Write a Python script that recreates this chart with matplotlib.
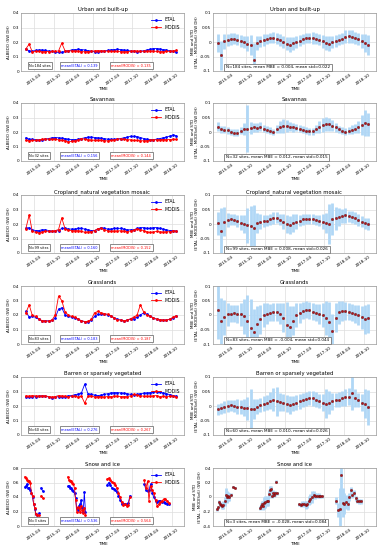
import matplotlib
matplotlib.use("Agg")
import matplotlib.pyplot as plt
import matplotlib.dates as mdates
from matplotlib.ticker import FuncFormatter
import numpy as np
import pandas as pd

# monthly mid-points, Jan 2015 .. Nov 2018
months = pd.date_range("2015-01-01", periods=47, freq="MS") + pd.Timedelta(days=14)

titles = ["Urban and built-up", "Savannas", "Cropland_natural vegetation mosaic",
          "Grasslands", "Barren or sparsely vegetated", "Snow and ice"]
n_sites = [184, 32, 99, 83, 60, 3]
mean_etal = [0.139, 0.156, 0.160, 0.183, 0.276, 0.536]
mean_modis = [0.135, 0.144, 0.152, 0.187, 0.267, 0.564]
mean_mbe = [0.004, 0.012, 0.008, -0.004, 0.010, -0.028]
mean_std = [0.022, 0.015, 0.026, 0.044, 0.026, 0.084]

urban_etal = [0.150, 0.140, 0.135, 0.142, 0.145, 0.145, 0.142, 0.138, 0.135, 0.130, 0.128, 0.130,
              0.135, 0.140, 0.145, 0.148, 0.150, 0.148, 0.145, 0.140, 0.136, 0.133, 0.132, 0.135,
              0.138, 0.142, 0.146, 0.148, 0.150, 0.148, 0.145, 0.142, 0.138, 0.135, 0.132, 0.136,
              0.140, 0.145, 0.150, 0.155, 0.155, 0.152, 0.148, 0.145, 0.140, 0.135, 0.133]
urban_modis = [0.153, 0.185, 0.133, 0.136, 0.135, 0.133, 0.134, 0.134, 0.135, 0.136, 0.138, 0.192,
               0.139, 0.138, 0.139, 0.138, 0.137, 0.133, 0.133, 0.134, 0.136, 0.139, 0.141, 0.139,
               0.138, 0.137, 0.136, 0.135, 0.136, 0.134, 0.133, 0.134, 0.136, 0.139, 0.138, 0.136,
               0.136, 0.137, 0.138, 0.137, 0.135, 0.134, 0.134, 0.135, 0.136, 0.138, 0.143]
urban_mbe = [-0.003, -0.045, 0.002, 0.006, 0.010, 0.012, 0.008, 0.004, 0.000, -0.006, -0.010, -0.062,
             -0.004, 0.002, 0.006, 0.010, 0.013, 0.015, 0.012, 0.006, 0.000, -0.006, -0.009, -0.004,
             0.000, 0.005, 0.010, 0.013, 0.014, 0.014, 0.012, 0.008, 0.002, -0.004, -0.006, 0.000,
             0.004, 0.008, 0.012, 0.018, 0.020, 0.018, 0.014, 0.010, 0.004, -0.003, -0.010]
urban_std = [0.030, 0.050, 0.025, 0.020, 0.020, 0.020, 0.020, 0.020, 0.022, 0.025, 0.035, 0.060,
             0.025, 0.020, 0.020, 0.018, 0.018, 0.020, 0.020, 0.020, 0.020, 0.022, 0.025, 0.022,
             0.020, 0.018, 0.018, 0.018, 0.018, 0.020, 0.020, 0.020, 0.022, 0.025, 0.025, 0.022,
             0.020, 0.020, 0.020, 0.022, 0.022, 0.022, 0.022, 0.022, 0.025, 0.030, 0.035]

sav_etal = [0.160, 0.150, 0.150, 0.148, 0.145, 0.148, 0.150, 0.155, 0.160, 0.162, 0.160, 0.158,
            0.155, 0.150, 0.148, 0.148, 0.150, 0.155, 0.160, 0.165, 0.165, 0.162, 0.160, 0.158,
            0.155, 0.150, 0.150, 0.150, 0.152, 0.155, 0.160, 0.165, 0.170, 0.170, 0.168, 0.162,
            0.155, 0.150, 0.148, 0.148, 0.150, 0.155, 0.160, 0.165, 0.172, 0.180, 0.175]
sav_modis = [0.142, 0.140, 0.142, 0.142, 0.145, 0.150, 0.152, 0.150, 0.150, 0.150, 0.146, 0.142,
             0.140, 0.132, 0.136, 0.140, 0.146, 0.155, 0.150, 0.147, 0.145, 0.142, 0.142, 0.142,
             0.141, 0.138, 0.142, 0.146, 0.150, 0.152, 0.150, 0.147, 0.146, 0.142, 0.142, 0.140,
             0.139, 0.140, 0.144, 0.147, 0.146, 0.147, 0.148, 0.147, 0.148, 0.150, 0.149]
sav_mbe = [0.018, 0.010, 0.008, 0.006, 0.000, -0.002, -0.002, 0.005, 0.010, 0.012, 0.014, 0.016,
           0.015, 0.018, 0.012, 0.008, 0.004, 0.000, 0.010, 0.018, 0.020, 0.020, 0.018, 0.016,
           0.014, 0.012, 0.008, 0.004, 0.002, 0.003, 0.010, 0.018, 0.024, 0.028, 0.026, 0.022,
           0.016, 0.010, 0.004, 0.001, 0.004, 0.008, 0.012, 0.018, 0.024, 0.030, 0.026]
sav_std = [0.015, 0.012, 0.012, 0.012, 0.012, 0.012, 0.012, 0.012, 0.020, 0.080, 0.020, 0.015,
           0.015, 0.015, 0.012, 0.012, 0.012, 0.012, 0.015, 0.020, 0.025, 0.020, 0.015, 0.015,
           0.012, 0.012, 0.012, 0.012, 0.012, 0.012, 0.015, 0.020, 0.025, 0.025, 0.022, 0.020,
           0.015, 0.012, 0.012, 0.012, 0.012, 0.015, 0.015, 0.020, 0.035, 0.045, 0.040]

crop_etal = [0.170, 0.175, 0.160, 0.155, 0.155, 0.160, 0.160, 0.155, 0.150, 0.150, 0.155, 0.170,
             0.170, 0.165, 0.165, 0.165, 0.170, 0.170, 0.165, 0.160, 0.155, 0.155, 0.165, 0.175,
             0.170, 0.165, 0.165, 0.170, 0.170, 0.170, 0.165, 0.160, 0.160, 0.160, 0.170, 0.175,
             0.175, 0.170, 0.170, 0.175, 0.175, 0.170, 0.165, 0.160, 0.155, 0.155, 0.150]
crop_modis = [0.168, 0.262, 0.152, 0.142, 0.140, 0.145, 0.150, 0.150, 0.150, 0.154, 0.162, 0.242,
              0.166, 0.157, 0.155, 0.153, 0.154, 0.150, 0.143, 0.145, 0.147, 0.155, 0.168, 0.170,
              0.162, 0.153, 0.149, 0.152, 0.152, 0.153, 0.151, 0.148, 0.152, 0.156, 0.168, 0.160,
              0.155, 0.146, 0.142, 0.145, 0.149, 0.146, 0.145, 0.146, 0.147, 0.153, 0.150]
crop_mbe = [0.002, -0.025, 0.008, 0.014, 0.016, 0.015, 0.010, 0.005, 0.000, -0.004, -0.008, -0.015,
            0.004, 0.008, 0.010, 0.012, 0.016, 0.020, 0.022, 0.015, 0.008, 0.000, -0.004, 0.004,
            0.008, 0.012, 0.016, 0.018, 0.018, 0.017, 0.014, 0.012, 0.008, 0.004, 0.000, 0.016,
            0.020, 0.024, 0.028, 0.030, 0.026, 0.024, 0.020, 0.014, 0.008, 0.002, 0.000]
crop_std = [0.040, 0.080, 0.050, 0.025, 0.020, 0.020, 0.020, 0.025, 0.030, 0.060, 0.070, 0.080,
            0.035, 0.025, 0.020, 0.020, 0.020, 0.020, 0.020, 0.020, 0.025, 0.030, 0.030, 0.030,
            0.025, 0.020, 0.020, 0.018, 0.018, 0.018, 0.018, 0.020, 0.025, 0.035, 0.070, 0.055,
            0.040, 0.030, 0.025, 0.025, 0.020, 0.020, 0.020, 0.020, 0.020, 0.020, 0.020]

grass_etal = [0.225, 0.185, 0.190, 0.185, 0.170, 0.160, 0.160, 0.160, 0.165, 0.180, 0.240, 0.250,
              0.200, 0.190, 0.185, 0.180, 0.170, 0.160, 0.155, 0.155, 0.165, 0.190, 0.205, 0.205,
              0.205, 0.200, 0.195, 0.180, 0.170, 0.165, 0.160, 0.165, 0.170, 0.175, 0.185, 0.200,
              0.215, 0.205, 0.195, 0.180, 0.170, 0.165, 0.165, 0.165, 0.170, 0.180, 0.190]
grass_modis = [0.215, 0.270, 0.200, 0.190, 0.175, 0.160, 0.158, 0.158, 0.165, 0.200, 0.330, 0.300,
               0.220, 0.200, 0.190, 0.185, 0.172, 0.160, 0.155, 0.156, 0.170, 0.215, 0.225, 0.215,
               0.210, 0.205, 0.195, 0.180, 0.168, 0.165, 0.160, 0.165, 0.175, 0.185, 0.200, 0.270,
               0.220, 0.200, 0.190, 0.180, 0.172, 0.168, 0.165, 0.165, 0.172, 0.185, 0.195]
grass_mbe = [0.018, -0.020, -0.008, 0.002, 0.005, 0.006, 0.004, 0.002, -0.005, -0.020, -0.045, -0.060,
             -0.030, -0.015, 0.000, 0.005, 0.008, 0.010, 0.010, 0.005, -0.010, -0.035, -0.040, -0.020,
             0.000, 0.008, 0.015, 0.018, 0.016, 0.012, 0.008, 0.004, 0.000, -0.010, -0.025, -0.055,
             -0.010, 0.010, 0.015, 0.014, 0.012, 0.008, 0.004, 0.000, -0.008, -0.015, -0.012]
grass_std = [0.100, 0.080, 0.060, 0.040, 0.030, 0.030, 0.030, 0.040, 0.060, 0.090, 0.100, 0.080,
             0.060, 0.050, 0.040, 0.035, 0.030, 0.030, 0.030, 0.035, 0.050, 0.080, 0.070, 0.050,
             0.040, 0.035, 0.030, 0.030, 0.030, 0.030, 0.030, 0.035, 0.040, 0.060, 0.070, 0.060,
             0.050, 0.040, 0.035, 0.030, 0.030, 0.030, 0.030, 0.035, 0.040, 0.050, 0.050]

barren_etal = [0.265, 0.260, 0.262, 0.265, 0.268, 0.270, 0.268, 0.262, 0.258, 0.260, 0.265, 0.262,
               0.265, 0.270, 0.272, 0.278, 0.282, 0.290, 0.350, 0.285, 0.280, 0.275, 0.272, 0.275,
               0.280, 0.285, 0.290, 0.292, 0.292, 0.290, 0.288, 0.285, 0.280, 0.278, 0.280, 0.285,
               0.288, 0.290, 0.292, 0.295, 0.298, 0.295, 0.290, 0.285, 0.278, 0.272, 0.268]
barren_modis = [0.270, 0.268, 0.272, 0.270, 0.268, 0.270, 0.270, 0.265, 0.262, 0.265, 0.272, 0.270,
                0.268, 0.265, 0.268, 0.268, 0.262, 0.268, 0.220, 0.268, 0.270, 0.262, 0.265, 0.265,
                0.262, 0.265, 0.265, 0.268, 0.268, 0.265, 0.265, 0.265, 0.270, 0.280, 0.275, 0.270,
                0.268, 0.268, 0.268, 0.270, 0.272, 0.265, 0.268, 0.265, 0.268, 0.268, 0.265]
barren_mbe = [-0.012, -0.008, -0.004, 0.000, 0.002, 0.000, -0.002, -0.004, -0.006, -0.008, -0.012, -0.010,
              -0.002, 0.004, 0.008, 0.012, 0.018, 0.022, 0.016, 0.014, 0.012, 0.008, 0.004, 0.008,
              0.012, 0.016, 0.020, 0.024, 0.028, 0.026, 0.022, 0.018, 0.012, 0.008, 0.012, 0.016,
              0.020, 0.022, 0.026, 0.030, 0.032, 0.046, 0.028, 0.020, 0.012, 0.008, -0.004]
barren_std = [0.020, 0.020, 0.020, 0.020, 0.020, 0.020, 0.025, 0.025, 0.030, 0.040, 0.070, 0.035,
              0.025, 0.025, 0.025, 0.025, 0.030, 0.040, 0.050, 0.030, 0.030, 0.030, 0.030, 0.025,
              0.025, 0.025, 0.025, 0.025, 0.025, 0.025, 0.025, 0.025, 0.030, 0.050, 0.040, 0.030,
              0.025, 0.025, 0.025, 0.030, 0.030, 0.060, 0.030, 0.025, 0.030, 0.050, 0.060]

# snow: only a few seasons have data, nan rows break the lines
snow_dates = ["2015-01-05", "2015-01-15", "2015-01-25", "2015-02-05", "2015-02-15", "2015-02-25",
              "2015-03-08", "2015-03-18", "2015-03-28", "2015-04-08", "2015-04-18", "2015-04-28",
              "2015-05-08", "2015-05-16", "2015-05-26", "2015-06-06", "2015-06-20", "2015-09-01",
              "2016-02-10", "2016-02-20", "2016-03-01", "2016-03-12", "2016-03-22", "2016-04-02",
              "2016-04-12", "2016-04-22", "2016-05-02", "2016-05-12", "2016-05-22", "2016-06-02",
              "2016-06-12", "2016-06-22", "2016-07-02", "2016-07-12", "2016-07-22", "2016-10-01",
              "2017-02-10", "2017-02-25", "2017-03-10", "2017-03-25", "2017-04-10", "2017-04-25",
              "2017-05-10", "2017-05-25", "2017-06-10", "2017-06-25", "2017-07-10", "2017-07-25",
              "2017-08-10", "2017-08-25", "2017-09-10", "2017-11-01",
              "2018-01-20", "2018-02-05", "2018-02-20", "2018-03-05", "2018-03-20", "2018-04-05",
              "2018-04-20", "2018-05-05", "2018-05-20", "2018-06-05", "2018-06-20", "2018-07-05",
              "2018-07-20", "2018-08-05", "2018-08-20", "2018-09-05"]
nan = np.nan
snow_etal = [0.54, 0.55, 0.58, 0.52, 0.53, 0.50, 0.45, 0.40, 0.31, 0.24, 0.17, 0.15,
             nan, 0.18, nan, 0.53, 0.48, nan,
             0.55, 0.55, 0.53, 0.52, 0.50, 0.48, 0.45, 0.38, 0.25, 0.22, 0.28, 0.30,
             0.36, 0.25, 0.20, 0.47, 0.20, nan,
             0.57, 0.60, 0.56, 0.53, 0.51, 0.50, 0.47, 0.42, 0.36, 0.31, 0.30, 0.31,
             0.30, 0.32, 0.42, nan,
             0.58, 0.50, 0.48, 0.49, 0.58, 0.45, 0.40, 0.35, 0.33, 0.35, 0.34, 0.33,
             0.33, 0.32, 0.31, 0.30]
snow_modis = [0.68, 0.66, 0.64, 0.62, 0.62, 0.60, 0.46, 0.42, 0.31, 0.25, 0.16, 0.15,
              nan, 0.15, nan, 0.42, 0.38, nan,
              0.68, 0.63, 0.62, 0.62, 0.60, 0.58, 0.52, 0.36, 0.20, 0.26, 0.25, 0.19,
              0.28, 0.22, 0.18, 0.25, 0.15, nan,
              0.65, 0.66, 0.63, 0.61, 0.59, 0.57, 0.53, 0.46, 0.40, 0.33, 0.29, 0.30,
              0.28, 0.29, 0.40, nan,
              0.63, 0.52, 0.62, 0.35, 0.55, 0.50, 0.45, 0.36, 0.28, 0.30, 0.33, 0.35,
              0.37, 0.37, 0.35, 0.32]
snow_mbe = [-0.17, -0.14, -0.07, -0.10, -0.11, -0.12, -0.11, -0.06, 0.03, 0.00, 0.01, 0.00,
            nan, 0.03, nan, 0.14, 0.13, nan,
            -0.15, -0.12, -0.10, -0.12, -0.08, -0.07, -0.06, -0.06, 0.04, 0.10, 0.11, 0.02,
            0.05, 0.03, 0.05, 0.21, 0.05, nan,
            -0.10, -0.11, -0.09, -0.10, -0.11, -0.10, -0.05, -0.03, 0.00, 0.03, 0.01, 0.02,
            0.02, 0.01, 0.01, nan,
            -0.05, -0.18, -0.17, 0.31, -0.08, -0.09, -0.07, -0.10, 0.00, 0.09, 0.03, 0.05,
            -0.02, -0.05, -0.06, -0.06]
snow_std = [0.02, 0.02, 0.03, 0.03, 0.03, 0.04, 0.05, 0.06, 0.10, 0.08, 0.06, 0.05,
            nan, 0.02, nan, 0.01, 0.01, nan,
            0.03, 0.04, 0.05, 0.06, 0.08, 0.08, 0.07, 0.06, 0.06, 0.05, 0.04, 0.04,
            0.04, 0.03, 0.03, 0.02, 0.02, nan,
            0.02, 0.03, 0.03, 0.04, 0.05, 0.05, 0.06, 0.07, 0.08, 0.05, 0.04, 0.03,
            0.03, 0.02, 0.02, nan,
            0.05, 0.10, 0.30, 0.35, 0.20, 0.15, 0.10, 0.08, 0.06, 0.05, 0.04, 0.04,
            0.04, 0.03, 0.03, 0.03]

snow_x = pd.to_datetime(snow_dates)
panels = [
    (months, urban_etal, urban_modis, urban_mbe, urban_std),
    (months, sav_etal, sav_modis, sav_mbe, sav_std),
    (months, crop_etal, crop_modis, crop_mbe, crop_std),
    (months, grass_etal, grass_modis, grass_mbe, grass_std),
    (months, barren_etal, barren_modis, barren_mbe, barren_std),
    (snow_x, snow_etal, snow_modis, snow_mbe, snow_std),
]

W, H = 386, 550
fig = plt.figure(figsize=(3.86, 5.5), dpi=100)
row_tops = [13, 103, 195, 286, 377, 468]
ax_h = 58
fs = 3.0
xlim = (pd.Timestamp("2014-12-01"), pd.Timestamp("2019-01-25"))
gfmt = FuncFormatter(lambda v, p: "%g" % round(v, 3))


def style(ax, title):
    ax.set_title(title, fontsize=3.8, pad=1.2)
    ax.grid(True, color="#dddddd", lw=0.5)
    ax.set_axisbelow(True)
    for s in ax.spines.values():
        s.set_color("#999999")
        s.set_linewidth(0.5)
    ax.tick_params(length=0, labelsize=fs, pad=1.5)
    ax.xaxis.set_major_locator(mdates.MonthLocator(bymonth=[4, 10]))
    ax.xaxis.set_major_formatter(mdates.DateFormatter("%Y-%m"))
    for lab in ax.get_xticklabels():
        lab.set_rotation(35)
    ax.set_xlim(*xlim)
    ax.yaxis.set_major_formatter(gfmt)
    ax.set_xlabel("TIME", fontsize=fs, labelpad=0.5)


box = dict(boxstyle="square,pad=0.4", fc="white", ec="#777777", lw=0.6)

for i, (x, etal, modis, mbe, std) in enumerate(panels):
    bottom = 1 - (row_tops[i] + ax_h) / H
    axl = fig.add_axes([21 / W, bottom, 163 / W, ax_h / H])
    axr = fig.add_axes([213 / W, bottom, 163 / W, ax_h / H])

    axl.plot(x, etal, ".-", color="blue", lw=0.6, ms=2.0, label="ETAL")
    axl.plot(x, modis, ".-", color="red", lw=0.6, ms=2.0, label="MODIS")
    style(axl, titles[i])
    axl.set_ylabel("ALBEDO (SW DH)", fontsize=2.8, labelpad=1)
    if i < 5:
        axl.set_ylim(0, 0.4)
        axl.set_yticks([0, 0.1, 0.2, 0.3, 0.4])
    else:
        axl.set_ylim(0, 0.8)
        axl.set_yticks([0, 0.2, 0.4, 0.6, 0.8])
    axl.legend(loc="upper right", fontsize=3.3, frameon=False, handlelength=2.2,
               borderaxespad=0.5, labelspacing=0.6)
    axl.text(0.05, 0.09, "N=%d sites" % n_sites[i], transform=axl.transAxes,
             fontsize=2.5, color="black", va="center", bbox=box)
    axl.text(0.245, 0.09, "mean(ETAL) = %.3f" % mean_etal[i], transform=axl.transAxes,
             fontsize=2.5, color="blue", va="center", bbox=box)
    axl.text(0.555, 0.09, "mean(MODIS) = %.3f" % mean_modis[i], transform=axl.transAxes,
             fontsize=2.5, color="red", va="center", bbox=box)

    axr.errorbar(x, mbe, yerr=std, fmt="o", color="#b3141a", ms=1.8, mew=0.2, mec="#400000",
                 ecolor="#b0d7f6", elinewidth=2.0, capsize=0)
    style(axr, titles[i])
    axr.set_ylabel("MBE and STD\n(ETAL - MODISv6) (SW DH)", fontsize=2.8, labelpad=1,
                   linespacing=1.1)
    if i < 5:
        axr.set_ylim(-0.1, 0.1)
        axr.set_yticks([-0.1, -0.05, 0, 0.05, 0.1])
    else:
        axr.set_ylim(-0.4, 0.4)
        axr.set_yticks([-0.4, -0.2, 0, 0.2, 0.4])
    axr.text(0.08, 0.065, "N=%d sites, mean MBE = %.3f, mean std=%.3f"
             % (n_sites[i], mean_mbe[i], mean_std[i]),
             transform=axr.transAxes, fontsize=3.0, color="black", va="center", bbox=box)

fig.savefig("out.png", dpi=100)
